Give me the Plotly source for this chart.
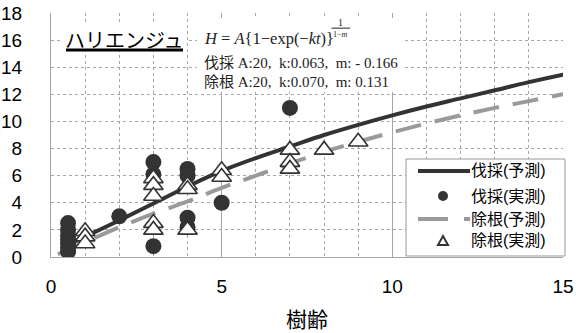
import plotly.graph_objects as go

# Predicted height curves (age, height)
cut_pred_age = [0.5, 1, 2, 3, 4, 5, 6, 7, 8, 9, 10, 11, 12, 13, 14, 15, 15.5]
cut_pred_h = [0.9, 1.5, 2.7, 3.95, 5.2, 6.35, 7.3, 8.15, 9.0, 9.75, 10.45, 11.1, 11.7, 12.3, 12.9, 13.45, 13.7]

root_pred_age = [0.2, 1, 2, 3, 4, 5, 6, 7, 8, 9, 10, 11, 12, 13, 14, 15, 15.5]
root_pred_h = [0.2, 1.1, 2.2, 3.2, 4.1, 5.1, 6.0, 6.9, 7.75, 8.5, 9.2, 9.85, 10.45, 11.0, 11.5, 12.0, 12.2]

# Observed heights (age, height)
cut_obs_age = [0.5, 0.5, 0.5, 0.5, 0.5, 0.5, 0.5, 2, 3, 3, 3, 4, 4, 4, 4, 5, 7]
cut_obs_h = [2.5, 2.0, 1.6, 1.3, 1.0, 0.7, 0.4, 3.0, 7.0, 6.1, 0.8, 6.5, 6.0, 2.9, 2.2, 4.0, 11.0]

root_obs_age = [1, 1, 1, 3, 3, 3, 3, 3, 4, 4, 4, 5, 5, 7, 7, 7, 8, 9]
root_obs_h = [1.9, 1.5, 1.0, 5.8, 5.3, 4.5, 2.5, 2.0, 5.3, 5.0, 2.0, 6.4, 5.9, 7.9, 7.0, 6.5, 7.9, 8.5]

legend_labels = ["伐採(予測)", "伐採(実測)", "除根(予測)", "除根(実測)"]

x_ticks = [0, 5, 10, 15]
y_ticks = [0, 2, 4, 6, 8, 10, 12, 14, 16, 18]

DARK = "#333333"
GREY = "#9a9a9a"
GRID = "#a6a6a6"
SANS = "Liberation Sans, Noto Sans CJK JP, sans-serif"
SERIF = "Liberation Serif, Noto Sans CJK JP, serif"
DASH = "26px,14px"

fig = go.Figure()

fig.add_trace(go.Scatter(x=cut_pred_age, y=cut_pred_h, mode="lines", line_shape="spline",
                         name=legend_labels[0], line=dict(color=DARK, width=4)))
fig.add_trace(go.Scatter(x=root_pred_age, y=root_pred_h, mode="lines", line_shape="spline",
                         name=legend_labels[2], line=dict(color=GREY, width=4, dash=DASH)))
fig.add_trace(go.Scatter(x=cut_obs_age, y=cut_obs_h, mode="markers", name=legend_labels[1],
                         marker=dict(symbol="circle", size=16, color=DARK)))
fig.add_trace(go.Scatter(x=root_obs_age, y=root_obs_h, mode="markers", name=legend_labels[3],
                         marker=dict(symbol="triangle-up", size=17, color="white",
                                     line=dict(color=DARK, width=1.6))))

shapes = [
    # white panels behind the species name and the equation text
    dict(type="rect", x0=0.0234, x1=0.2637, y0=0.8484, y1=0.9549,
         fillcolor="white", line=dict(width=0)),
    dict(type="rect", x0=0.285, x1=0.691, y0=0.676, y1=0.980,
         fillcolor="white", line=dict(width=0)),
    # underline of the species name and fraction bar of the exponent
    dict(type="line", x0=0.0293, x1=0.2578, y0=0.848, y1=0.848,
         line=dict(color="black", width=3)),
    dict(type="line", x0=0.548, x1=0.584, y0=0.938, y1=0.938,
         line=dict(color="#222", width=1)),
    # legend box and its symbols
    dict(type="rect", x0=0.6934, x1=1.0039, y0=0.0041, y1=0.4016,
         fillcolor="white", line=dict(color="#999999", width=1)),
    dict(type="line", x0=0.7168, x1=0.8184, y0=0.3525, y1=0.3525,
         line=dict(color=DARK, width=4)),
    dict(type="circle", xsizemode="pixel", ysizemode="pixel", xanchor=0.7656, yanchor=0.25,
         x0=-5, x1=5, y0=-5, y1=5, fillcolor=DARK, line=dict(width=0)),
    dict(type="line", x0=0.7168, x1=0.8184, y0=0.1557, y1=0.1557,
         line=dict(color=GREY, width=4, dash="30px,16px")),
    dict(type="path", xsizemode="pixel", ysizemode="pixel", xanchor=0.7656, yanchor=0.0656,
         path="M-5,-4L5,-4L0,5Z", fillcolor="white", line=dict(color=DARK, width=2)),
]
for s in shapes:
    s.update(xref="paper", yref="paper", layer="above")
fig.update_layout(shapes=shapes)

legend_rows = [0.3525, 0.25, 0.1557, 0.0656]
annotations = [
    dict(text="ハリエンジュ", x=0.1426, y=0.886, font=dict(family=SANS, size=20, color="black"),
         xanchor="center", yanchor="middle"),
    dict(text="<i>H</i> = <i>A</i>{1\u2212exp(\u2212<i>kt</i>)}", x=0.295, y=0.8975,
         font=dict(family=SERIF, size=16.5, color="#222"), xanchor="left", yanchor="middle"),
    dict(text="1", x=0.566, y=0.963, font=dict(family=SERIF, size=10, color="#222"),
         xanchor="center", yanchor="middle"),
    dict(text="1\u2212<i>m</i>", x=0.566, y=0.912, font=dict(family=SERIF, size=8, color="#222"),
         xanchor="center", yanchor="middle"),
    dict(text="伐採 A:20,\u00a0 k:0.063,\u00a0 m: - 0.166", x=0.295, y=0.795,
         font=dict(family=SERIF, size=15, color="#222"), xanchor="left", yanchor="middle"),
    dict(text="除根 A:20,\u00a0 k:0.070,\u00a0 m: 0.131", x=0.295, y=0.717,
         font=dict(family=SERIF, size=15, color="#222"), xanchor="left", yanchor="middle"),
    dict(text="樹高（m）", x=-0.118, y=0.48, textangle=-90,
         font=dict(family=SANS, size=20, color="black"), xanchor="center", yanchor="middle"),
    dict(text="樹齢", x=0.5, y=-0.2557,
         font=dict(family=SANS, size=21, color="black"), xanchor="center", yanchor="middle"),
]
for label, row in zip(legend_labels, legend_rows):
    annotations.append(dict(text=label, x=0.8164, y=row, xanchor="left", yanchor="middle",
                            font=dict(family=SANS, size=16, color="black")))
for a in annotations:
    a.update(xref="paper", yref="paper", showarrow=False)
fig.update_layout(annotations=annotations)

fig.update_layout(
    width=576, height=333,
    margin=dict(l=51, r=13, t=13, b=76, autoexpand=False),
    paper_bgcolor="white", plot_bgcolor="white",
    font=dict(family=SANS, size=19, color="black"),
    showlegend=False,
    xaxis=dict(range=[0, 15], tickvals=x_ticks, ticks="", showline=True, linecolor=GRID,
               gridcolor=GRID, gridwidth=1, ticklabelstandoff=12, automargin=False,
               minor=dict(dtick=1, showgrid=True, griddash="dot", gridcolor=GRID, gridwidth=1),
               zeroline=False),
    yaxis=dict(range=[0, 18], tickvals=y_ticks, ticks="", showline=True, linecolor=GRID,
               gridcolor=GRID, griddash="dot", gridwidth=1, ticklabelstandoff=24,
               automargin=False, zeroline=False),
)

fig.write_html("out.html")
